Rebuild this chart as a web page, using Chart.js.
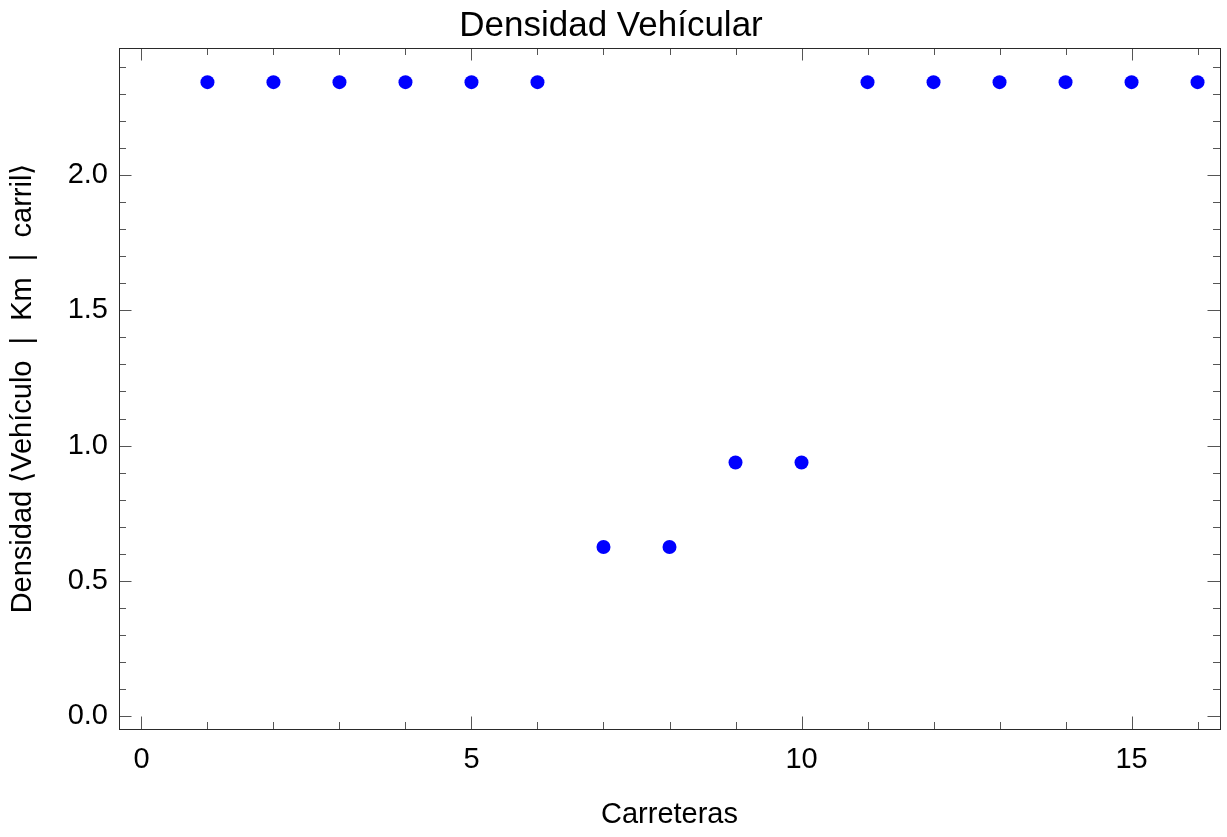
<!DOCTYPE html>
<html>
<head>
<meta charset="utf-8">
<title>Densidad Vehícular</title>
<script src="https://cdn.jsdelivr.net/npm/chart.js@4.4.1/dist/chart.umd.min.js"></script>
<style>
  html, body { margin: 0; padding: 0; background: #ffffff; }
  #wrap { width: 1227px; height: 837px; }
</style>
</head>
<body>
<div id="wrap"><canvas id="chart" width="1227" height="837"></canvas></div>
<script>
// Road index and vehicle density per road
const carreteras = [1, 2, 3, 4, 5, 6, 7, 8, 9, 10, 11, 12, 13, 14, 15, 16];
const densidad = [2.34375, 2.34375, 2.34375, 2.34375, 2.34375, 2.34375,
                  0.625, 0.625, 0.9375, 0.9375,
                  2.34375, 2.34375, 2.34375, 2.34375, 2.34375, 2.34375];

// Tick positions (all marks) and the ones that carry a label
const xTicks = [0, 1, 2, 3, 4, 5, 6, 7, 8, 9, 10, 11, 12, 13, 14, 15, 16];
const xLabelTicks = [0, 5, 10, 15];
const yTicks = [0.0, 0.1, 0.2, 0.3, 0.4, 0.5, 0.6, 0.7, 0.8, 0.9, 1.0, 1.1, 1.2,
                1.3, 1.4, 1.5, 1.6, 1.7, 1.8, 1.9, 2.0, 2.1, 2.2, 2.3, 2.4];
const yLabelTicks = [0.0, 0.5, 1.0, 1.5, 2.0];

const FONT = "'Liberation Sans', Arial, sans-serif";
const isIn = (list, v) => list.some(t => Math.abs(t - v) < 1e-9);

// Frame around the plot area with inward ticks on all four sides
const framePlugin = {
  id: 'frameTicks',
  afterDatasetsDraw(chart) {
    const { ctx, chartArea: a, scales: { x, y } } = chart;
    ctx.save();
    ctx.lineWidth = 1;
    ctx.strokeStyle = '#555555';
    ctx.beginPath();
    x.ticks.forEach(t => {
      const px = Math.round(x.getPixelForValue(t.value)) + 0.5;
      const len = isIn(xLabelTicks, t.value) ? 12.5 : 7;
      ctx.moveTo(px, a.bottom); ctx.lineTo(px, a.bottom - len);
      ctx.moveTo(px, a.top); ctx.lineTo(px, a.top + len);
    });
    y.ticks.forEach(t => {
      const py = Math.round(y.getPixelForValue(t.value)) + 0.5;
      const len = isIn(yLabelTicks, t.value) ? 12.5 : 7;
      ctx.moveTo(a.left, py); ctx.lineTo(a.left + len, py);
      ctx.moveTo(a.right, py); ctx.lineTo(a.right - len, py);
    });
    ctx.stroke();
    ctx.strokeStyle = '#2a2a2a';
    ctx.strokeRect(Math.round(a.left) + 0.5, Math.round(a.top) + 0.5,
                   Math.round(a.right - a.left), Math.round(a.bottom - a.top));
    ctx.restore();
  }
};

new Chart(document.getElementById('chart'), {
  type: 'scatter',
  data: {
    datasets: [{
      data: carreteras.map((c, i) => ({ x: c, y: densidad[i] })),
      pointRadius: 7,
      pointHoverRadius: 7,
      pointBackgroundColor: '#0000ff',
      pointBorderWidth: 0,
      borderWidth: 0
    }]
  },
  options: {
    responsive: false,
    animation: false,
    events: [],
    layout: { padding: { left: 0, right: 5, top: 0, bottom: 0 } },
    plugins: {
      legend: { display: false },
      tooltip: { enabled: false },
      title: {
        display: true,
        text: 'Densidad Vehícular',
        color: '#000000',
        font: { family: FONT, size: 35, weight: 'normal', lineHeight: 1.0 },
        padding: { top: 9, bottom: 4 }
      }
    },
    scales: {
      x: {
        type: 'linear',
        min: -0.34,
        max: 16.34,
        grid: { display: false, drawTicks: false },
        border: { display: false },
        afterBuildTicks: s => { s.ticks = xTicks.map(v => ({ value: v })); },
        afterFit: s => { s.height = 108; },
        ticks: {
          autoSkip: false,
          maxRotation: 0,
          padding: 14,
          color: '#000000',
          font: { family: FONT, size: 29 },
          callback: v => isIn(xLabelTicks, v) ? String(v) : ''
        },
        title: {
          display: true,
          text: 'Carreteras',
          color: '#000000',
          font: { family: FONT, size: 29 },
          padding: { top: 0, bottom: 5 }
        }
      },
      y: {
        type: 'linear',
        min: -0.048,
        max: 2.47,
        grid: { display: false, drawTicks: false },
        border: { display: false },
        afterBuildTicks: s => { s.ticks = yTicks.map(v => ({ value: v })); },
        afterFit: s => { s.width = 119; },
        ticks: {
          autoSkip: false,
          padding: 11,
          color: '#000000',
          font: { family: FONT, size: 29 },
          callback: v => isIn(yLabelTicks, v) ? v.toFixed(1) : ''
        },
        title: {
          display: true,
          text: 'Densidad \u27E8Vehículo  |  Km  |  carril\u27E9',
          color: '#000000',
          font: { family: FONT, size: 29 },
          padding: { top: 6, bottom: 0 }
        }
      }
    }
  },
  plugins: [framePlugin]
});
</script>
</body>
</html>
